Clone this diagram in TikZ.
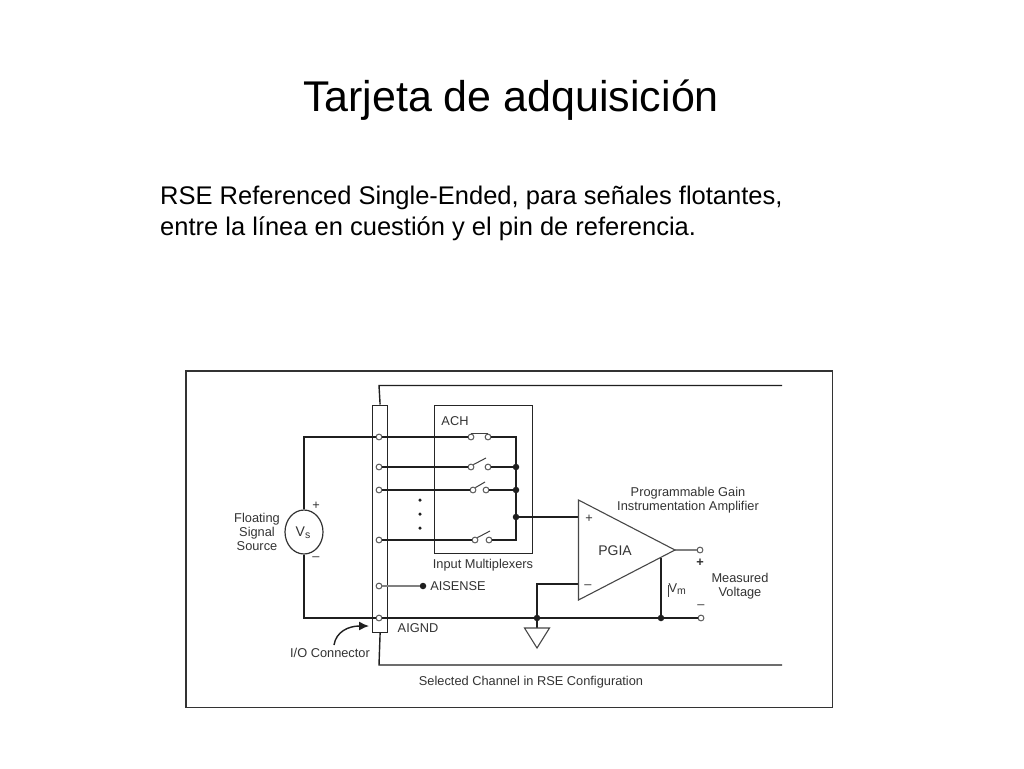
\documentclass[tikz,border=0pt]{standalone}
\usepackage{fontspec}
\setmainfont{Liberation Sans}
\usetikzlibrary{arrows.meta,shapes.geometric}
\newcommand{\subl}[1]{\raisebox{-2pt}{\fontsize{10.5}{12}\selectfont #1}}
\tikzset{
  x=1pt,y=-1pt,
  wire/.style={draw=black!88,line width=1.4pt},
  thinwire/.style={draw=black!75,line width=1pt},
  greywire/.style={draw=black!50,line width=1.4pt},
  box/.style={draw=black!85,line width=1.2pt,fill=none},
  pin/.style={circle,draw=black!65,fill=white,line width=1pt,inner sep=0pt,minimum size=5.8pt},
  jdot/.style={circle,fill=black!88,inner sep=0pt,minimum size=6.5pt},
  mdot/.style={circle,fill=black!88,inner sep=0pt,minimum size=3.5pt},
  lab/.style={inner sep=0pt,text=black!80,font=\fontsize{12.8}{14}\selectfont,align=center},
  biglab/.style={lab,font=\fontsize{14}{16}\selectfont},
  title/.style={inner sep=0pt,text=black,font=\fontsize{43}{48}\selectfont},
  para/.style={inner sep=0pt,text=black,align=left,font=\fontsize{25.5}{31}\selectfont},
}
\begin{document}
\begin{tikzpicture}
\useasboundingbox (0,0) rectangle (1024,768);
\fill[white] (0,0) rectangle (1024,768);
\node[title] (title) at (511,100) {Tarjeta de adquisición};
\node[para,anchor=north west] (body) at (160,186) {RSE Referenced Single-Ended, para señales flotantes,\\entre la línea en cuestión y el pin de referencia.};
% frame
\node[draw=black!80,line width=1.6pt,minimum width=646.5pt,minimum height=336.5pt,inner sep=0pt,anchor=north west] (frame) at (185,370) {};
% card outline
\coordinate (cardTR) at (782,385.5);
\coordinate (cardBR) at (782,665);
\coordinate (cardTL) at (379,385.5);
\coordinate (cardBL) at (379,665);
% connector bar
\node[box,fill=white,minimum width=15pt,minimum height=227.5pt,inner sep=0pt,anchor=north west] (bar) at (372,404.5) {};
\draw[wire] (bar.north) -- (cardTL) -- (cardTR);
\draw[wire] (bar.south) -- (cardBL) -- (cardBR);
% mux
\node[box,minimum width=98.5pt,minimum height=148.5pt,inner sep=0pt,anchor=north west] (mux) at (433.5,404.5) {};
% amp
\coordinate (ampA) at (578.5,500);
\coordinate (ampB) at (578.5,600);
\coordinate (ampC) at (675,550);
% junctions
\coordinate (busTop) at (516,437);
\coordinate (busBot) at (516,540);
\coordinate (vsTopC) at (304,437);
\coordinate (vsBotC) at (304,618);
\node[jdot] (j1) at (516,467) {};
\node[jdot] (j2) at (516,490) {};
\node[jdot] (j3) at (516,517) {};
\node[jdot] (j4) at (423,586) {};
\node[jdot] (j5) at (537,618) {};
\node[jdot] (j6) at (661,618) {};
\coordinate (minusIn) at (578.5,584);
\coordinate (minusC) at (537,584);
\coordinate (plusIn) at (578.5,517);
\coordinate (outTap) at (661,558);
% source
\node[ellipse,draw=black!80,line width=1.2pt,fill=white,inner sep=0pt,minimum width=38pt,minimum height=44pt] (vs) at (304,532) {};
\node[biglab] (vslab) at (303,533) {V\subl{s}};
% pins
\node[pin] (p1) at (379,437) {};
\node[pin] (p2) at (379,467) {};
\node[pin] (p3) at (379,490) {};
\node[pin] (p4) at (379,540) {};
\node[pin] (p5) at (379,586) {};
\node[pin] (p6) at (379,618) {};
\node[pin] (outp) at (700,550) {};
\node[pin] (outm) at (701,618) {};
% switches
\node[pin] (s1a) at (471,437) {};
\node[pin] (s1b) at (488,437) {};
\node[pin] (s2a) at (471,467) {};
\node[pin] (s2b) at (488,467) {};
\node[pin] (s3a) at (473,490) {};
\node[pin] (s3b) at (486,490) {};
\node[pin] (s4a) at (475,540) {};
\node[pin] (s4b) at (489,540) {};
\coordinate (a2) at (486,458);
\coordinate (a3) at (485,482);
\coordinate (a4) at (490,531);
% wires
\draw[wire] (p1) -- (s1a);
\draw[wire] (s1b) -- (busTop) -- (busBot) -- (s4b);
\draw[thinwire] (s1a.north) -- (s1b.north);
\draw[wire] (p2) -- (s2a); \draw[wire] (s2b) -- (j1);
\draw[wire] (p3) -- (s3a); \draw[wire] (s3b) -- (j2);
\draw[wire] (p4) -- (s4a);
\draw[thinwire] (s2a.north east) -- (a2);
\draw[thinwire] (s3a.north east) -- (a3);
\draw[thinwire] (s4a.north east) -- (a4);
\draw[wire] (p1) -- (vsTopC) -- (vs.north);
\draw[wire] (vs.south) -- (vsBotC) -- (p6);
\draw[greywire] (p5) -- (j4);
\draw[wire] (p6) -- (j5) -- (j6) -- (outm);
\draw[wire] (j3) -- (plusIn);
\draw[wire] (minusIn) -- (minusC) -- (j5);
\draw[greywire] (ampC) -- (outp);
\draw[wire] (outTap) -- (j6);
\draw[draw=black!72,line width=1.1pt,line join=miter,fill=white] (ampA) -- (ampC) -- (ampB) -- cycle;
\coordinate (gndA) at (524.5,628);
\coordinate (gndB) at (549.5,628);
\coordinate (gndC) at (537,648);
\coordinate (gndT) at (537,628);
\draw[wire] (j5) -- (gndT);
\draw[draw=black!72,line width=1.1pt] (gndA) -- (gndB) -- (gndC) -- cycle;
% dots in mux
\node[mdot] (d1) at (420,500) {};
\node[mdot] (d2) at (420,514) {};
\node[mdot] (d3) at (420,528) {};
% arrow
\coordinate (ioEnd) at (369,626);
\coordinate (ioStart) at (334,645);
\draw[wire,-{Latex[length=10pt,width=9pt]}] (ioStart) .. controls (336,632) and (348,626) .. (ioEnd);
% labels
\node[lab] (ach) at (455,421) {ACH};
\node[lab] (imx) at (483,565) {Input Multiplexers};
\node[lab] (ais) at (458,586) {AISENSE};
\node[lab] (agd) at (418,628) {AIGND};
\node[lab] (ioc) at (330,653) {I/O Connector};
\node[lab] (sel) at (531,682.5) {Selected Channel in RSE Configuration};
\node[lab] (fss) at (257,532) {Floating\\Signal\\Source};
\node[lab] (vp) at (316,506) {+};
\node[lab] (vm) at (316,559) {--};
\node[lab] (pga) at (688,500.5) {Programmable Gain\\Instrumentation Amplifier};
\node[biglab] (pgia) at (615,551) {PGIA};
\node[lab] (ap) at (589,519) {+};
\node[lab] (am) at (588,587) {--};
\node[lab] (mp) at (700,563) {\textbf{+}};
\node[lab] (mm) at (701,607) {--};
\node[lab] (mv) at (740,586) {Measured\\Voltage};
\node[lab,anchor=west] (vmm) at (668.5,589) {V\subl{m}};
\coordinate (tickA) at (668,585);
\coordinate (tickB) at (668,597);
\draw[thinwire] (tickA) -- (tickB);
\end{tikzpicture}
\end{document}
